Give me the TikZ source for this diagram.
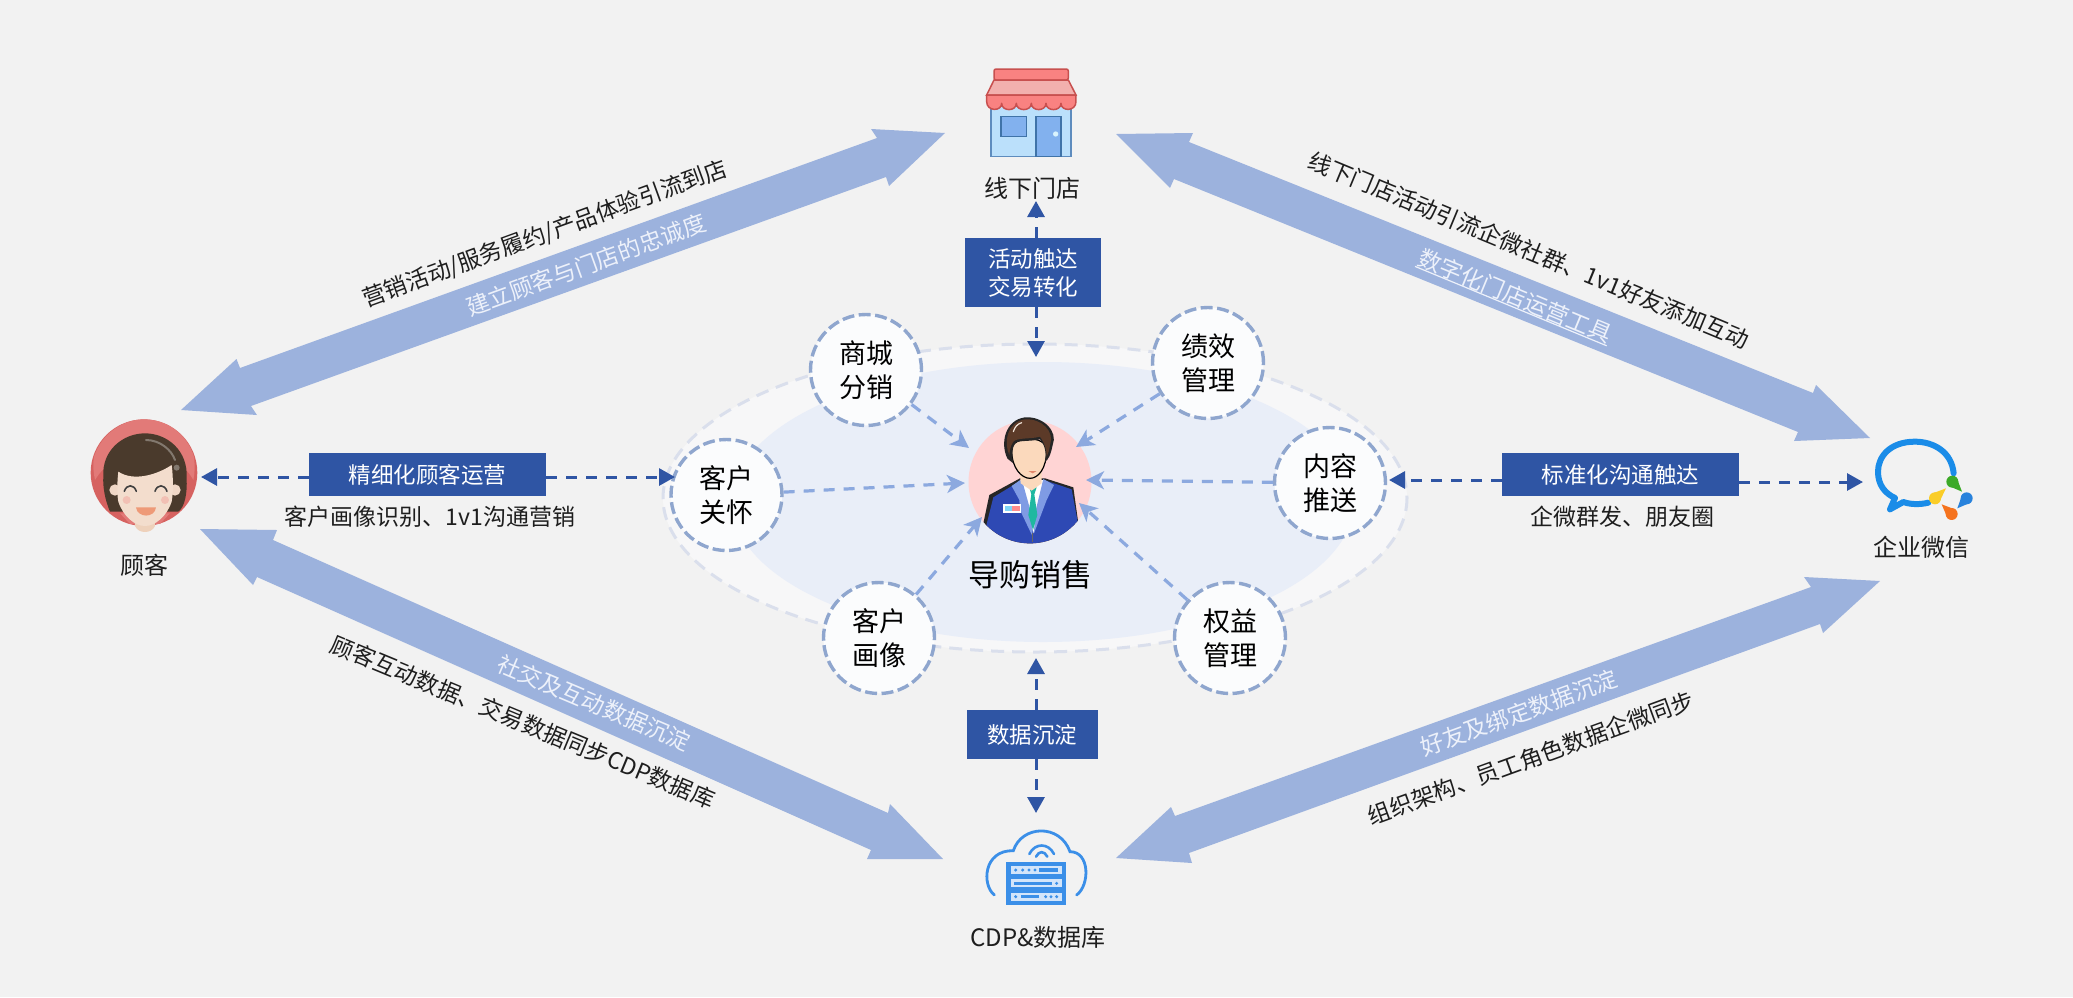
\documentclass[tikz,border=0pt]{standalone}
\usepackage{fontspec}
\setmainfont{Noto Sans CJK SC}
\usetikzlibrary{arrows.meta}
\definecolor{bgc}{HTML}{F2F2F2}
\definecolor{bigc}{HTML}{9CB2DD}
\definecolor{boxc}{HTML}{2F55A4}
\definecolor{lightc}{HTML}{8CA9DF}
\definecolor{ringc}{HTML}{8FA6CE}
\definecolor{txt}{HTML}{1E1E1E}
\definecolor{onarrow}{HTML}{EDF1FA}
\definecolor{outerd}{HTML}{DADFEC}
\definecolor{outerf}{HTML}{F7F7F8}
\definecolor{innerf}{HTML}{E9EEF8}
\definecolor{ringf}{HTML}{FBFCFD}
\definecolor{jacket}{HTML}{2E49B4}
\definecolor{lapel}{HTML}{7F9BE4}
\definecolor{tie}{HTML}{1FB8A0}
\definecolor{skin}{HTML}{FBD9BC}
\definecolor{hairm}{HTML}{5C3A28}
\definecolor{wecom}{HTML}{1A8CE8}
\definecolor{cdpb}{HTML}{3B8FE8}
\definecolor{cdpl}{HTML}{D3E5FA}
\definecolor{shopb}{HTML}{BBE0FB}
\definecolor{shops}{HTML}{5E8CBE}
\definecolor{shopd}{HTML}{82B1EE}
\definecolor{shopds}{HTML}{3F73A8}
\definecolor{awn}{HTML}{F98281}
\definecolor{awns}{HTML}{C8504F}
\definecolor{awnm}{HTML}{F2B0AE}
\newcommand{\fsz}[1]{\fontsize{#1}{#1}\selectfont}
\tikzset{
  bigarrow/.style={fill=bigc,draw=none},
  bluebox/.style={fill=boxc,draw=none,text=white,inner sep=0pt,align=center},
  darrow/.style={draw=boxc,line width=3pt,dash pattern=on 11pt off 9pt,-{Triangle[length=16pt,width=17pt]}},
  larrow/.style={draw=lightc,line width=3.2pt,dash pattern=on 11pt off 9pt,-{Stealth[length=18pt,width=18pt,inset=5pt]}},
  ringnode/.style={circle,minimum size=111pt,inner sep=0pt,draw=ringc,fill=ringf,line width=3.4pt,dash pattern=on 12pt off 4.5pt,align=center,text=black,font=\fontsize{27}{34}\selectfont},
  lab/.style={inner sep=0pt,text=txt,font=\fsz{24}},
  sublab/.style={inner sep=0pt,text=txt,font=\fsz{23}},
  onlab/.style={inner sep=0pt,text=onarrow,font=\fsz{23}},
  boxtext/.style={font=\fontsize{22.5}{28}\selectfont}
}
\begin{document}
\begin{tikzpicture}[x=1pt,y=-1pt]
\useasboundingbox (0,0) rectangle (2073,997);
\fill[bgc] (0,0) rectangle (2073,997);

% central ellipses
\draw[draw=outerd,fill=outerf,line width=3pt,dash pattern=on 13pt off 8pt] (1035,498) ellipse [x radius=372,y radius=154];
\fill[innerf] (1043,502) ellipse [x radius=311,y radius=140];

% big double arrows
\fill[bigarrow] (181,410) -- (236.5,359) -- (240,368) -- (877,138) -- (871,129) -- (945,133) -- (889,186) -- (886,177) -- (251,406) -- (257,415) -- cycle;
\fill[bigarrow] (1116,134) -- (1193,133) -- (1189,142) -- (1813,393) -- (1816,385) -- (1870,438) -- (1794,441) -- (1798,432) -- (1174,179) -- (1170,188) -- cycle;
\fill[bigarrow] (200,529) -- (277,530) -- (273,540) -- (888,813) -- (890,804) -- (943,859) -- (867,859) -- (871,850) -- (257,577) -- (253,585) -- cycle;
\fill[bigarrow] (1116,858) -- (1171,807) -- (1175,816) -- (1811,587) -- (1804,577) -- (1880,581) -- (1823,633) -- (1820,624) -- (1189,853) -- (1192,863) -- cycle;

% labels along the big arrows
\node[sublab,rotate=20] (t1) at (545,234) {营销活动/服务履约/产品体验引流到店};
\node[onlab,rotate=20] (t2) at (586,265) {建立顾客与门店的忠诚度};
\node[sublab,rotate=-22.5] (t3) at (1529,250) {线下门店活动引流企微社群、1v1好友添加互动};
\node[onlab,rotate=-22.5] (t4) at (1515,296) {数字化门店运营工具};
\draw[onarrow,line width=1.2pt] (t4.south west) -- (t4.south east);
\node[sublab,rotate=-22.5] (t5) at (523,722) {顾客互动数据、交易数据同步CDP数据库};
\node[onlab,rotate=-23] (t6) at (594,703) {社交及互动数据沉淀};
\node[onlab,rotate=20] (t7) at (1519,713) {好友及绑定数据沉淀};
\node[sublab,rotate=20] (t8) at (1531,758) {组织架构、员工角色数据企微同步};

% ring nodes
\node[ringnode] (sc) at (866,370) {商城\\分销};
\node[ringnode] (jx) at (1208,363) {绩效\\管理};
\node[ringnode] (gh) at (726.5,495) {客户\\关怀};
\node[ringnode] (nr) at (1330,483) {内容\\推送};
\node[ringnode] (hx) at (879,638) {客户\\画像};
\node[ringnode] (qy) at (1230,638) {权益\\管理};

% salesperson
\fill[fill=red!17!white] (1030,482) circle (61.5pt);
\begin{scope}[shift={(930,400)},scale=0.3333]
  \begin{scope}
    \clip (300,245) circle (185);
    \fill[black!85] (160,370) -- (178,285) -- (270,235) -- (345,235) -- (430,262) -- (445,370) -- (445,440) -- (160,440) -- cycle;
    \fill[jacket] (170,372) -- (190,292) -- (275,240) -- (342,240) -- (425,268) -- (443,365) -- (443,440) -- (170,440) -- cycle;
    \fill[white] (272,240) -- (345,240) -- (310,400) -- cycle;
    \fill[lapel] (245,258) -- (275,237) -- (305,345) -- (308,410) -- (270,330) -- (268,300) -- cycle;
    \fill[lapel] (340,237) -- (372,255) -- (350,300) -- (312,400) -- (315,340) -- cycle;
    \fill[tie] (298,262) -- (320,262) -- (313,283) -- (322,345) -- (309,390) -- (295,345) -- (304,283) -- cycle;
    \draw[line width=1pt,black!60] (309,400) -- (309,425);
    \fill[white] (220,313) rectangle (274,338);
    \fill[cyan!50!white] (224,317) rectangle (245,334);
    \fill[red!45!white] (245,317) rectangle (270,334);
  \end{scope}
  \fill[skin] (268,195) -- (335,195) -- (335,250) -- (305,272) -- (272,250) -- cycle;
  \draw[black,line width=1.2pt,fill=skin] (245,150) .. controls (245,205) and (275,235) .. (300,235) .. controls (325,235) and (350,205) .. (350,150) .. controls (350,105) and (245,105) .. (245,150) -- cycle;
  \fill[black!85] (232,175) .. controls (210,130) and (225,60) .. (285,52) .. controls (340,48) and (385,95) .. (368,135) .. controls (362,165) and (355,180) .. (345,185) .. controls (350,160) and (345,135) .. (330,118) .. controls (300,125) and (265,120) .. (255,130) .. controls (245,145) and (245,170) .. (250,190) -- (235,178) -- cycle;
  \fill[hairm] (238,165) .. controls (220,125) and (232,66) .. (285,58) .. controls (335,55) and (375,95) .. (360,135) .. controls (358,150) and (355,160) .. (350,170) .. controls (350,150) and (345,130) .. (330,110) .. controls (300,118) and (262,112) .. (250,125) .. controls (240,140) and (240,150) .. (238,165) -- cycle;
  \draw[white!80!brown,line width=1.2pt,line cap=round] (250,95) .. controls (255,80) and (262,72) .. (275,68);
  \fill[red!35!brown!70!white] (295,213) -- (320,213) -- (308,220) -- cycle;
\end{scope}
\node[inner sep=0pt,text=black,font=\fsz{31}] (gw) at (1030,575) {导购销售};

% light arrows
\coordinate (a1) at (969,448);
\coordinate (a2) at (1076,447);
\coordinate (a3) at (965,483);
\coordinate (a4) at (1086,480);
\coordinate (a5) at (982,517);
\coordinate (a6) at (1079,503);
\draw[larrow] (sc) -- (a1);
\draw[larrow] (jx) -- (a2);
\draw[larrow] (gh) -- (a3);
\draw[larrow] (nr) -- (a4);
\draw[larrow] (hx) -- (a5);
\draw[larrow] (qy) -- (a6);

% blue boxes
\node[bluebox,minimum width=237pt,minimum height=43pt,font=\fsz{22.5}] (b1) at (427.5,474.5) {精细化顾客运营};
\node[bluebox,minimum width=237pt,minimum height=43pt,font=\fsz{22.5}] (b2) at (1620.5,474.5) {标准化沟通触达};
\node[bluebox,minimum width=136pt,minimum height=69pt,boxtext] (b3) at (1033,272.5) {活动触达\\交易转化};
\node[bluebox,minimum width=131pt,minimum height=49pt,font=\fsz{22.5}] (b4) at (1032,734.5) {数据沉淀};
\node[sublab] (s1) at (430,517) {客户画像识别、1v1沟通营销};
\node[sublab] (s2) at (1622,517) {企微群发、朋友圈};

% dark dashed arrows
\coordinate (c1) at (201,477);
\coordinate (c2) at (675,477);
\coordinate (c3) at (1389,480);
\coordinate (c4) at (1863,482);
\coordinate (c5) at (1036,201);
\coordinate (c6) at (1036,357);
\coordinate (c7) at (1036,658);
\coordinate (c8) at (1036,813);
\draw[darrow] (b1.west |- c1) -- (c1);
\draw[darrow] (b1.east |- c2) -- (c2);
\draw[darrow] (b2.west |- c3) -- (c3);
\draw[darrow] (b2.east |- c4) -- (c4);
\draw[darrow] (b3.north -| c5) -- (c5);
\draw[darrow] (b3.south -| c6) -- (c6);
\draw[darrow] (b4.north -| c7) -- (c7);
\draw[darrow] (b4.south -| c8) -- (c8);

% store icon
\begin{scope}[shift={(940,40)},scale=0.3333]
  \draw[draw=shops,fill=shopb,line width=1.5pt] (153,200) rectangle (393,350);
  \draw[draw=shopds,fill=shopd,line width=1.5pt] (183,230) rectangle (260,290);
  \draw[draw=shopds,fill=shopd,line width=1.5pt] (288,230) rectangle (363,350);
  \fill[white!85!cyan] (347,282) circle (8);
  \draw[draw=awns,fill=awn,line width=1.5pt,rounded corners=2pt] (162,87) rectangle (385,120);
  \draw[draw=awns,fill=awnm,line width=1.5pt] (162,120) -- (385,120) -- (408,165) -- (140,165) -- cycle;
  \draw[draw=awns,fill=awn,line width=1.5pt,line join=round] (140,165) -- (408,165) -- (408,185)
     .. controls (408,215) and (363,215) .. (363,190)
     .. controls (363,215) and (318,215) .. (318,190)
     .. controls (318,215) and (274,215) .. (274,190)
     .. controls (274,215) and (229,215) .. (229,190)
     .. controls (229,215) and (185,215) .. (185,190)
     .. controls (185,215) and (140,215) .. (140,185) -- cycle;
\end{scope}
\node[lab] (n1) at (1032.5,188) {线下门店};

% customer icon
\begin{scope}[shift={(60,400)},scale=0.3333]
  \fill[fill=bgc!0!white,fill=red!0!white,fill={rgb,255:red,214;green,98;blue,96}] (252,218) circle (160);
  \fill[fill={rgb,255:red,226;green,122;blue,120}] (102,170) .. controls (125,100) and (190,58) .. (252,58) .. controls (320,58) and (380,100) .. (402,170) .. controls (405,200) and (405,215) .. (400,240) .. controls (340,130) and (170,130) .. (105,240) .. controls (100,215) and (98,195) .. (102,170) -- cycle;
  \fill[fill={rgb,255:red,226;green,122;blue,120}] (180,340) -- (330,340) -- (300,372) -- (210,372) -- cycle;
  \fill[fill={rgb,255:red,74;green,58;blue,44}] (130,230) .. controls (125,150) and (190,100) .. (255,100) .. controls (320,100) and (385,150) .. (380,235) .. controls (382,280) and (375,320) .. (355,335) -- (150,335) .. controls (135,300) and (128,260) .. (130,230) -- cycle;
  \fill[fill={rgb,255:red,238;green,209;blue,187}] (225,360) -- (285,360) -- (285,378) .. controls (275,402) and (235,402) .. (225,378) -- cycle;
  \fill[fill={rgb,255:red,240;green,215;blue,198}] (165,270) circle (17);
  \fill[fill={rgb,255:red,240;green,215;blue,198}] (345,270) circle (17);
  \fill[fill={rgb,255:red,243;green,221;blue,205}] (175,215) .. controls (220,245) and (290,225) .. (335,195) .. controls (340,230) and (340,280) .. (335,305) .. controls (320,350) and (285,378) .. (255,378) .. controls (225,378) and (190,350) .. (175,305) .. controls (170,280) and (172,240) .. (175,215) -- cycle;
  \draw[black!75,line width=1.6pt,line cap=round] (193,274) .. controls (200,252) and (222,252) .. (229,274);
  \draw[black!75,line width=1.6pt,line cap=round] (285,274) .. controls (292,252) and (314,252) .. (321,274);
  \fill[fill={rgb,255:red,242;green,192;blue,180}] (200,300) circle (12);
  \fill[fill={rgb,255:red,242;green,192;blue,180}] (315,300) circle (12);
  \fill[fill={rgb,255:red,238;green,154;blue,120}] (228,322) -- (288,322) .. controls (285,355) and (232,355) .. (228,322) -- cycle;
  \draw[draw={rgb,255:red,130;green,120;blue,110},line width=2pt,line cap=round] (258,120) .. controls (300,120) and (335,150) .. (345,180);
  \fill[fill={rgb,255:red,130;green,120;blue,110}] (350,203) circle (9);
\end{scope}
\node[lab] (n2) at (144,565) {顾客};

% WeCom icon
\begin{scope}[shift={(1840,410)},scale=0.3333]
  \draw[draw=wecom,line width=6pt,line join=round,line cap=round] (341,190) .. controls (335,125) and (280,95) .. (225,95) .. controls (150,95) and (114,140) .. (114,185) .. controls (114,225) and (135,250) .. (165,264) -- (150,298) -- (190,276) .. controls (215,285) and (245,283) .. (265,278);
  \fill[fill={rgb,255:red,60;green,170;blue,40}] (337,215) circle (18);
  \fill[fill={rgb,255:red,60;green,170;blue,40}] (350,203) -- (366,245) -- (324,227) -- cycle;
  \fill[fill={rgb,255:red,40;green,130;blue,220}] (380,265) circle (18);
  \fill[fill={rgb,255:red,40;green,130;blue,220}] (393,277) -- (352,295) -- (367,253) -- cycle;
  \fill[fill={rgb,255:red,245;green,115;blue,30}] (335,312) circle (18);
  \fill[fill={rgb,255:red,245;green,115;blue,30}] (347,299) -- (305,283) -- (323,325) -- cycle;
  \fill[fill={rgb,255:red,250;green,205;blue,40}] (285,265) circle (18);
  \fill[fill={rgb,255:red,250;green,205;blue,40}] (297,278) -- (318,235) -- (273,252) -- cycle;
\end{scope}
\node[lab] (n3) at (1921,547) {企业微信};

% CDP icon
\begin{scope}[shift={(950,810)},scale=0.3333]
  \draw[draw=cdpb,line width=2.8pt,line cap=round] (133,255) .. controls (95,225) and (100,120) .. (190,122) .. controls (215,45) and (330,40) .. (360,125) .. controls (420,125) and (420,225) .. (380,255);
  \draw[draw=cdpb,line width=2.6pt,line cap=round] (238,132) .. controls (255,98) and (295,98) .. (312,132);
  \draw[draw=cdpb,line width=2.6pt,line cap=round] (258,140) .. controls (267,122) and (283,122) .. (292,140);
  \fill[cdpb] (167,155) rectangle (348,285);
  \fill[cdpl] (182,168) rectangle (335,192);
  \fill[cdpl] (182,208) rectangle (335,232);
  \fill[cdpl] (182,248) rectangle (335,272);
  \foreach \dx/\dy in {197/180,218/180,237/180,255/180,320/220,197/260,287/260,303/260,320/260}
    \fill[cdpb] (\dx,\dy) circle (5);
  \fill[cdpb] (268,175) rectangle (325,185);
  \fill[cdpb] (192,215) rectangle (305,225);
  \fill[cdpb] (212,255) rectangle (268,265);
\end{scope}
\node[lab] (n4) at (1038,937) {CDP\&数据库};
\end{tikzpicture}
\end{document}
